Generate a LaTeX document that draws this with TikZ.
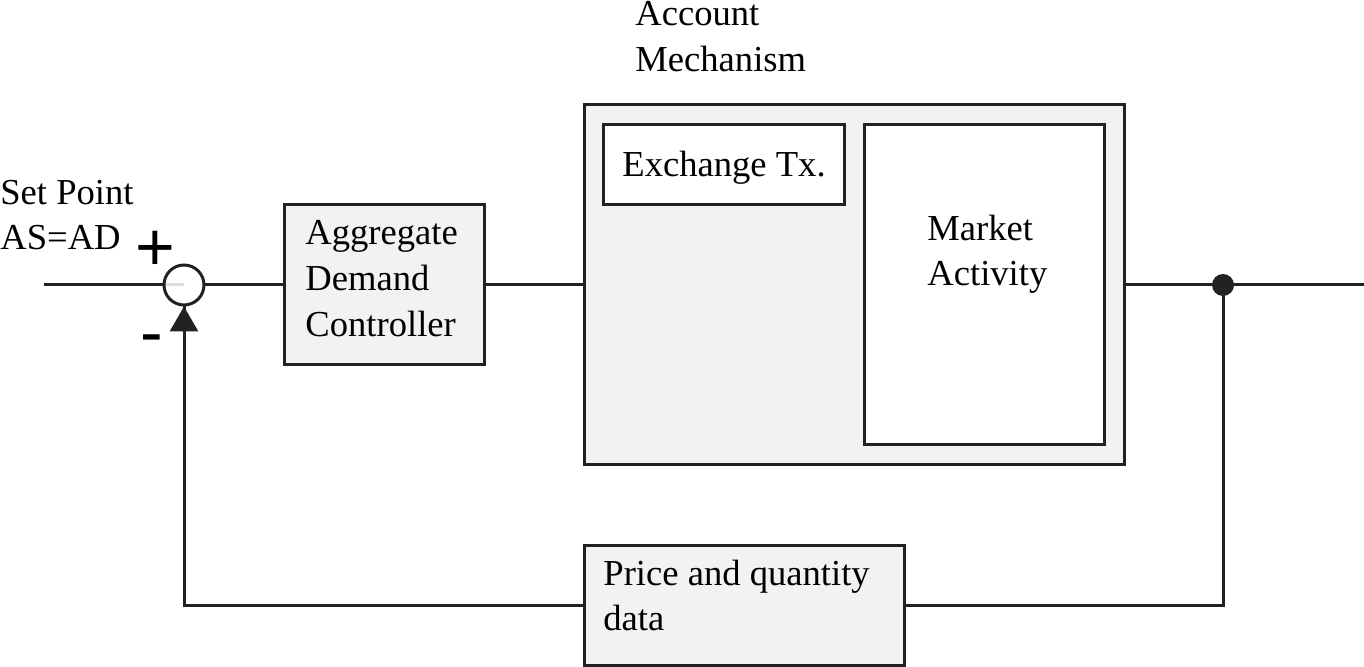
\documentclass[tikz,border=0pt]{standalone}
\usepackage{fontspec}
\setmainfont{Liberation Serif}
\setsansfont{Liberation Sans}
\usetikzlibrary{arrows.meta}
\definecolor{boxfill}{HTML}{F2F2F2}
\definecolor{ink}{HTML}{222222}
\tikzset{
  wire/.style={draw=ink, line width=1.5pt},
  blockbox/.style={draw=ink, line width=1.5pt, fill=boxfill, inner sep=0pt},
  innerbox/.style={draw=ink, line width=1.5pt, fill=white, inner sep=0pt},
  txt/.style={anchor=base west, inner sep=0pt, font=\fontsize{18.3}{23}\selectfont},
  sign/.style={inner sep=0pt, font=\sffamily\fontsize{34}{34}\selectfont},
  sumjunction/.style={circle, draw=ink, line width=1.5pt, fill=white, fill opacity=0.85, text opacity=1, minimum size=20pt, inner sep=0pt},
  junctiondot/.style={circle, fill=ink, minimum size=11pt, inner sep=0pt}
}
\begin{document}
\begin{tikzpicture}[x=0.5pt, y=-0.5pt]
\useasboundingbox (0,0) rectangle (1364,667);
% coordinates
\coordinate (in) at (44,285);
\coordinate (out) at (1364,285);
\coordinate (fbR) at (1223,605);
\coordinate (fbL) at (184,605);
% blocks
\node[blockbox, minimum width=100pt, minimum height=80pt] (adc) at (384,285) {};
\node[blockbox, minimum width=270pt, minimum height=180pt] (acct) at (854,285) {};
\node[innerbox, minimum width=120.5pt, minimum height=40pt] (ex) at (723.5,165) {};
\node[innerbox, minimum width=120pt, minimum height=160pt] (mkt) at (984,285) {};
\node[blockbox, minimum width=160pt, minimum height=60pt] (pq) at (744,605) {};
\node[junctiondot] (dot) at (1223,285) {};
% wires
\draw[wire] (in) -- (184,285);
\draw[wire] (204,285) -- (adc.west);
\draw[wire] (adc.east) -- (acct.west);
\draw[wire] (acct.east) -- (out);
\draw[wire] (dot.center) -- (fbR) -- (pq.east);
\node[sumjunction] (sum) at (184,285) {};
\draw[wire] (pq.west) -- (fbL) -- (sum.south);
\draw[wire, -{Triangle[length=12.5pt, width=14pt]}] (184,340) -- (sum.south);
% texts
\node[txt] (acct1) at (635,26) {Account};
\node[txt] (acct2) at (635,72) {Mechanism};
\node[txt] (ext) at (622,177) {Exchange Tx.};
\node[txt] (sp1) at (0,205) {Set Point};
\node[txt] (sp2) at (0,250) {AS=AD};
\node[txt] (adc1) at (305,245) {Aggregate};
\node[txt] (adc2) at (305,291) {Demand};
\node[txt] (adc3) at (305,337) {Controller};
\node[txt] (mkt1) at (927,241) {Market};
\node[txt] (mkt2) at (927,286) {Activity};
\node[txt] (pq1) at (603,585) {Price and quantity};
\node[txt] (pq2) at (603,630) {data};
\node[sign] (plus) at (155,251) {+};
\node[sign] (minus) at (152,345) {-};
\end{tikzpicture}
\end{document}
